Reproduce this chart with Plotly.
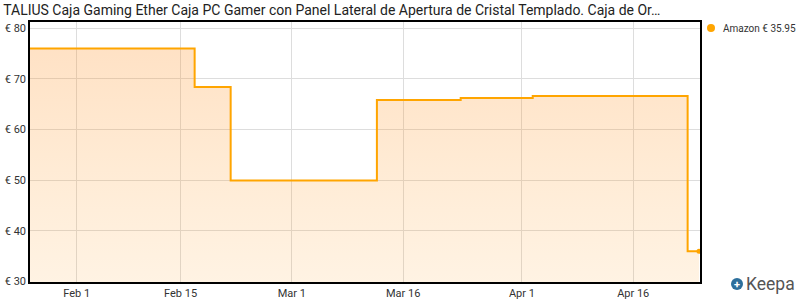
import plotly.graph_objects as go

title_text = "TALIUS Caja Gaming Ether Caja PC Gamer con Panel Lateral de Apertura de Cristal Templado. Caja de Or…"
dates = ["2024-01-25 00:00", "2024-02-16 21:30", "2024-02-21 18:00", "2024-03-12 11:00",
         "2024-03-23 18:00", "2024-04-02 11:00", "2024-04-23 08:00", "2024-04-24 20:40"]
prices = [75.99, 68.39, 49.95, 65.79, 66.19, 66.59, 35.95, 35.95]
last_date = dates[-1]
last_price = prices[-1]
legend_label = "Amazon € 35.95"
x_tick_vals = ["2024-02-01", "2024-02-15", "2024-03-01", "2024-03-16", "2024-04-01", "2024-04-16"]
x_tick_text = ["Feb 1", "Feb 15", "Mar 1", "Mar 16", "Apr 1", "Apr 16"]
y_tick_vals = [30, 40, 50, 60, 70, 80]
y_tick_text = ["€ 30", "€ 40", "€ 50", "€ 60", "€ 70", "€ 80"]

ORANGE = "#ffa500"
FONT = "Roboto"

fig = go.Figure()
fig.add_trace(go.Scatter(
    x=dates, y=prices, mode="lines", line=dict(color=ORANGE, width=2, shape="hv"),
    fill="tozeroy",
    fillgradient=dict(type="vertical", start=30, stop=80,
                      colorscale=[[0, "rgba(255,160,40,0.13)"], [1, "rgba(255,140,30,0.27)"]]),
    showlegend=False, hoverinfo="skip",
))
fig.add_trace(go.Scatter(
    x=[last_date], y=[last_price], mode="markers",
    marker=dict(color=ORANGE, size=5), showlegend=False, hoverinfo="skip",
))

fig.update_layout(
    width=800, height=300,
    margin=dict(l=30, r=100, t=22, b=18),
    paper_bgcolor="white", plot_bgcolor="white",
    font=dict(family=FONT, size=11, color="#333"),
    title=dict(text=title_text, xref="container", yref="container", x=0.004, y=0.965,
               xanchor="left", yanchor="middle", font=dict(family=FONT, size=14, color="#222")),
    xaxis=dict(range=["2024-01-25 17:00", "2024-04-25 00:00"], tickvals=x_tick_vals, ticktext=x_tick_text,
               showgrid=True, gridcolor="#dddddd", gridwidth=1, showline=True, linecolor="black",
               linewidth=1.5, mirror=True, ticks="", zeroline=False, automargin=False,
               tickfont=dict(size=11, color="#333")),
    yaxis=dict(range=[29.9, 81.2], tickvals=y_tick_vals, ticktext=y_tick_text,
               showgrid=True, gridcolor="#dddddd", gridwidth=1, showline=True, linecolor="black",
               linewidth=1.5, mirror=True, ticks="", zeroline=False, automargin=False,
               tickfont=dict(size=11, color="#333")),
    shapes=[
        dict(type="circle", xref="paper", yref="paper", xsizemode="pixel", ysizemode="pixel",
             xanchor=(711 - 30) / 670, yanchor=1 - (28 - 22) / 260,
             x0=-4, x1=4, y0=-4, y1=4, fillcolor=ORANGE, line=dict(width=0)),
        dict(type="circle", xref="paper", yref="paper", xsizemode="pixel", ysizemode="pixel",
             xanchor=(737 - 30) / 670, yanchor=1 - (284 - 22) / 260,
             x0=-6, x1=6, y0=-6, y1=6, fillcolor="#2c6f9c", line=dict(width=0)),
    ],
    annotations=[
        dict(text=legend_label, xref="paper", yref="paper", x=(721 - 30) / 670, y=1 - (28 - 22) / 260,
             xanchor="left", yanchor="middle", showarrow=False, font=dict(family=FONT, size=10, color="#333")),
        dict(text="<b>+</b>", xref="paper", yref="paper", x=(737 - 30) / 670, y=1 - (284 - 22) / 260,
             xanchor="center", yanchor="middle", showarrow=False, font=dict(family=FONT, size=11, color="white")),
        dict(text="Keepa", xref="paper", yref="paper", x=(744 - 30) / 670, y=1 - (284 - 22) / 260,
             xanchor="left", yanchor="middle", showarrow=False, font=dict(family=FONT, size=17.5, color="#555")),
    ],
)

fig.write_html("out.html")
